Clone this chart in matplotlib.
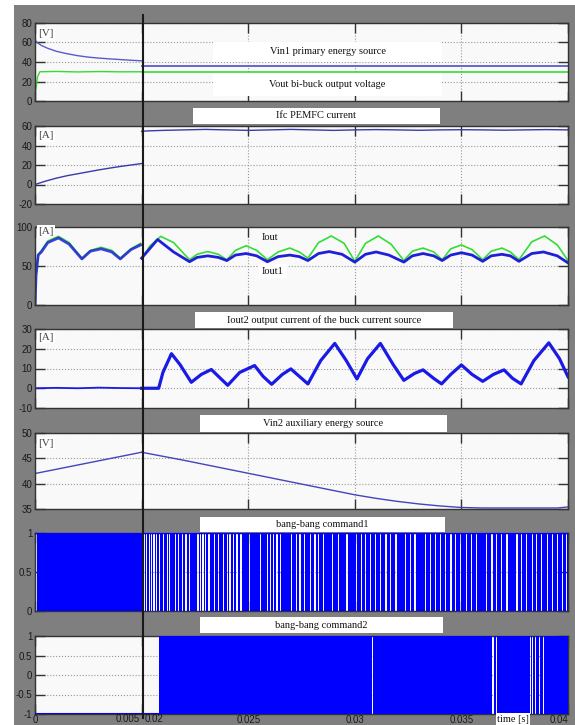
import numpy as np
import matplotlib
matplotlib.use('Agg')
import matplotlib.pyplot as plt
from matplotlib.patches import Rectangle
from matplotlib.lines import Line2D

# ── 1. DATA (time in ms) ──────────────────────────────────────────────────────
# panel 1: Vin1 / Vout
vin1_t_l = [0, 0.02, 0.1, 0.3, 0.6, 1.0, 1.5, 2.0, 2.5, 3.0, 3.5, 4.0, 4.5, 5.0]
vin1_v_l = [72, 62, 60, 57, 54, 51, 48.5, 46.5, 45, 44, 43.2, 42.5, 41.8, 41.2]
vin1_t_r = [20, 40]
vin1_v_r = [36, 36]
vout_t_l = [0, 0.02, 0.06, 0.12, 0.23, 1.0, 2.0, 3.0, 4.0, 5.0]
vout_v_l = [35, 10, 15, 25, 30, 30.3, 29.8, 30.2, 29.9, 30]
vout_t_r = [20, 40]
vout_v_r = [30, 30]

# panel 2: Ifc
ifc_t_l = [0, 0.5, 1, 1.5, 2, 2.5, 3, 3.5, 4, 4.5, 5]
ifc_v_l = [0, 3.5, 6.5, 9, 11, 13, 15, 16.8, 18.5, 20, 21.5]
ifc_t_r = [20, 20.3, 21, 22, 23, 24, 25, 26, 27, 28, 29, 30, 31, 32, 33, 34,
           35, 36, 37, 38, 39, 40]
ifc_v_r = [54.5, 55, 55.5, 56, 56.5, 56, 55.5, 56, 56.5, 56, 55.5, 56, 56.3,
           56, 55.6, 56, 56.2, 56, 55.7, 56, 56.3, 56]

# panel 3: Iout (green) / Iout1 (blue)
iout_t_l = [0, 0.05, 0.15, 0.3, 0.6, 1.1, 1.6, 2.2, 2.6, 3.1, 3.6, 4.0, 4.5, 4.95]
iout_v_l = [0, 40, 65, 70, 82, 88, 80, 60, 70, 74, 70, 60, 72, 79]
iout1_v_l = [0, 38, 64, 68, 80, 86, 78, 59, 69, 72, 68, 59, 71, 77]
iout_t_r = [20.0, 20.4, 20.9, 21.5, 22.25, 22.6, 23.1, 23.6, 24.0, 24.4, 24.9,
            25.4, 25.9, 26.4, 26.95, 27.4, 27.8, 28.3, 28.9, 29.5, 30.0, 30.5,
            31.1, 31.7, 32.3, 32.7, 33.2, 33.7, 34.1, 34.5, 35.0, 35.5, 36.0,
            36.4, 36.9, 37.3, 37.7, 38.3, 38.9, 39.5, 40.0]
iout_v_r = [60, 76, 88, 80, 58, 65, 68.5, 65, 58, 70, 76, 70, 58, 68, 73, 68,
            60, 80, 88.5, 79, 56, 79, 88.5, 78, 57, 69, 73, 68, 58, 72, 77, 71,
            58, 69, 73, 68, 58, 81, 88.5, 77, 57]
iout1_t_r = [20.0, 20.75, 21.5, 22.25, 22.6, 23.1, 23.6, 24.0, 24.4, 24.9, 25.4,
             25.9, 26.4, 26.95, 27.4, 27.8, 28.3, 28.8, 29.4, 30.0, 30.5, 31.0,
             31.6, 32.3, 32.7, 33.2, 33.7, 34.1, 34.5, 35.0, 35.5, 36.0, 36.4,
             36.9, 37.3, 37.7, 38.3, 38.85, 39.5, 40.0]
iout1_v_r = [60, 84, 68, 55.5, 61, 63, 61, 57, 64, 66, 63, 55.5, 62, 64, 62, 57,
             66, 68.5, 65, 55, 65, 68, 64, 55, 63, 66, 63, 57, 64, 67, 64, 56,
             63, 65, 63, 56, 66, 68, 63, 54]

# panel 4: Iout2
iout2_t_l = [0, 1, 2, 3, 4, 5]
iout2_v_l = [0, 0.2, 0, 0.3, 0.1, 0]
iout2_t_r = [20.0, 20.8, 21.0, 21.4, 21.8, 22.33, 22.8, 23.27, 23.7, 24.04, 24.6,
             25.3, 25.7, 26.1, 26.6, 27.0, 27.4, 27.8, 28.4, 29.06, 29.6, 30.1,
             30.6, 31.2, 31.8, 32.3, 32.8, 33.2, 33.7, 34.07, 34.5, 35.0, 35.5,
             36.0, 36.5, 37.0, 37.4, 37.8, 38.4, 39.1, 39.6, 40.0]
iout2_v_r = [0, 0, 8, 17.5, 12, 3, 7, 9.5, 5, 1.5, 8, 11.5, 6, 2, 7, 9.8, 6,
             2.2, 14, 22.7, 14, 4.7, 15, 22.7, 12, 4, 7.5, 9.3, 5, 2.2, 7, 11.8,
             7, 3.5, 7, 9.3, 5, 2.2, 14, 23, 15, 5.8]

# panel 5: Vin2
vin2_t_l = [0, 5]
vin2_v_l = [42, 46.2]
vin2_t_r = [20, 22, 24, 26, 28, 30, 31, 32, 33, 34, 35, 36, 39.5, 40]
vin2_v_r = [46.2, 44.6, 42.9, 41.2, 39.5, 37.8, 37.1, 36.5, 36.0, 35.6, 35.3,
            35.2, 35.2, 35.4]

# panel 6: bang-bang command1 (off intervals: start, length in ms)
cmd1_gap_start = [0.0, 3.98, 4.59,
    20.00, 20.10, 20.22, 20.33, 20.45, 20.55, 20.68, 20.80,
    21.02, 21.18, 21.30, 21.55, 21.70, 21.88, 22.05, 22.22,
    22.60, 22.72, 22.85, 22.98, 23.12, 23.40, 23.58, 23.80,
    24.00, 24.12, 24.30, 24.45, 24.62, 24.78, 25.05, 25.30,
    25.55, 25.88, 26.00, 26.15, 26.30, 26.48, 26.75, 27.00,
    27.25, 27.40, 27.62, 27.90, 28.10, 28.28, 28.50, 28.72,
    28.95, 29.20, 29.38, 29.60, 29.85, 30.05, 30.30, 30.50,
    30.72, 30.95, 31.20, 31.42, 31.65, 31.90, 32.10, 32.35,
    32.58, 32.80, 33.05, 33.30, 33.52, 33.75, 34.00, 34.25,
    34.48, 34.70, 34.95, 35.20, 35.45, 35.68, 35.90, 36.15,
    36.40, 36.62, 36.85, 37.10, 37.35, 37.58, 37.80, 38.05,
    38.30, 38.52, 38.75, 39.00, 39.25, 39.48, 39.70, 39.92]
cmd1_gap_len = [0.08, 0.03, 0.03,
    0.06, 0.07, 0.05, 0.08, 0.04, 0.07, 0.05, 0.06,
    0.04, 0.06, 0.03, 0.05, 0.07, 0.04, 0.06, 0.05,
    0.07, 0.06, 0.08, 0.05, 0.07, 0.04, 0.06, 0.05,
    0.07, 0.08, 0.05, 0.06, 0.07, 0.04, 0.05, 0.03,
    0.06, 0.05, 0.07, 0.06, 0.08, 0.05, 0.04, 0.06,
    0.03, 0.07, 0.04, 0.05, 0.06, 0.03, 0.07, 0.04,
    0.05, 0.06, 0.04, 0.07, 0.03, 0.06, 0.05, 0.04,
    0.06, 0.03, 0.05, 0.07, 0.04, 0.06, 0.03, 0.05,
    0.04, 0.07, 0.03, 0.05, 0.06, 0.04, 0.05, 0.03,
    0.06, 0.04, 0.05, 0.07, 0.03, 0.05, 0.04, 0.06,
    0.07, 0.05, 0.06, 0.08, 0.04, 0.06, 0.05, 0.04,
    0.06, 0.03, 0.05, 0.04, 0.06, 0.03, 0.05, 0.04]

# panel 7: bang-bang command2 (on from 20.8 ms, off intervals)
cmd2_on = 20.8
cmd2_gap_start = [30.82, 36.45, 36.62, 38.2, 38.3, 38.45, 38.62, 38.85]
cmd2_gap_len = [0.03, 0.1, 0.03, 0.05, 0.05, 0.05, 0.08, 0.04]

xtick_labels = ['0', '', '0.025', '0.03', '0.035', '0.04']

# ── 2. HELPERS ─────────────────────────────────────────────────────────────────
W, H = 575, 725
GREY = '#7f7f7f'

def disp(t_ms):
    # broken time axis: 0..5 ms then 20..40 ms shown back to back
    t = np.asarray(t_ms, dtype=float)
    return np.where(t <= 5, t, t - 15) / 1000.0

def fx(x):
    return x / W

def fy(y):
    return 1 - y / H

def pulses(t0, t1, starts, lens, hi, lo):
    xs, vs = [t0], [hi]
    for s, l in zip(starts, lens):
        if t0 <= s < t1:
            xs += [s, s + l]
            vs += [lo, hi]
    xs.append(t1)
    vs.append(hi)
    return np.array(xs), np.array(vs)

serif = ['Liberation Serif', 'DejaVu Serif']
narrow = ['Liberation Sans Narrow', 'Liberation Sans', 'DejaVu Sans']

fig = plt.figure(figsize=(W / 100, H / 100), dpi=100, facecolor='white')
fig.add_artist(Rectangle((fx(14), 0), 1 - fx(14), fy(5), transform=fig.transFigure,
                         facecolor=GREY, edgecolor='none', zorder=-10))

panels = [  # top, bottom (px), ylim, yticks
    (23, 101, (0, 80), [0, 20, 40, 60, 80]),
    (126, 204, (-20, 60), [-20, 0, 20, 40, 60]),
    (227, 305, (0, 100), [0, 50, 100]),
    (329, 408, (-10, 30), [-10, 0, 10, 20, 30]),
    (433, 509, (35, 50), [35, 40, 45, 50]),
    (533, 611, (0, 1), [0, 0.5, 1]),
    (636, 714, (-1, 1), [-1, -0.5, 0, 0.5, 1]),
]

axes = []
for top, bot, ylim, yt in panels:
    ax = fig.add_axes([fx(35), fy(bot), fx(568) - fx(35), (bot - top) / H])
    ax.set_facecolor('#f9f9f9')
    ax.set_xlim(0, 0.025)
    ax.set_ylim(*ylim)
    ax.set_yticks(yt)
    ax.set_yticklabels([f'{v:g}' for v in yt], family=narrow, fontsize=7, color='#1a1a1a')
    ax.set_xticks([0, 0.005, 0.01, 0.015, 0.02, 0.025])
    ax.set_xticklabels([])
    ax.tick_params(direction='in', length=7, width=1, color='#333333',
                   top=True, right=True, pad=2)
    ax.grid(True, linestyle=':', color='#999999', linewidth=0.8)
    for s in ax.spines.values():
        s.set_color('#333333')
        s.set_linewidth(1)
    axes.append(ax)

# ── 3. CURVES ──────────────────────────────────────────────────────────────────
ax1, ax2, ax3, ax4, ax5, ax6, ax7 = axes

ax1.plot(disp(vin1_t_l), vin1_v_l, color='#5a5ad0', lw=1)
ax1.plot(disp(vin1_t_r), vin1_v_r, color='#5a5ad0', lw=1.3)
ax1.plot(disp(vout_t_l), vout_v_l, color='#33dd33', lw=1)
ax1.plot(disp(vout_t_r), vout_v_r, color='#33dd33', lw=1.2)

ax2.plot(disp(ifc_t_l), ifc_v_l, color='#3a3aa8', lw=1)
ax2.plot(disp(ifc_t_r), ifc_v_r, color='#3a3aa8', lw=1)

ax3.plot(disp(iout_t_l), iout_v_l, color='#33dd33', lw=1.2)
ax3.plot(disp(iout_t_l), iout1_v_l, color='#1f1fd8', lw=2, alpha=0.85)
ax3.plot(disp(iout_t_r), iout_v_r, color='#33dd33', lw=1.2)
ax3.plot(disp(iout1_t_r), iout1_v_r, color='#1f1fd8', lw=2)

ax4.plot(disp(iout2_t_l), iout2_v_l, color='#1a1ae6', lw=1.3)
ax4.plot(disp(iout2_t_r), iout2_v_r, color='#1a1ae6', lw=2.3)

ax5.plot(disp(vin2_t_l), vin2_v_l, color='#4444bb', lw=1)
ax5.plot(disp(vin2_t_r), vin2_v_r, color='#4444bb', lw=1)

for t0, t1 in [(0, 5), (20, 40)]:
    xs, vs = pulses(t0, t1, cmd1_gap_start, cmd1_gap_len, 1, 0)
    ax6.fill_between(disp(xs), 0, vs, step='post', color='#0000ff', lw=0, zorder=3)
ax6.plot(disp([0, 5]), [1, 1], color='#0000ff', lw=0.8, zorder=3)
ax6.plot(disp([20, 40]), [1, 1], color='#0000ff', lw=0.8, zorder=3)

xs, vs = pulses(cmd2_on, 40, cmd2_gap_start, cmd2_gap_len, 1, -1)
ax7.fill_between(disp(xs), -1, vs, step='post', color='#0000ff', lw=0, zorder=3)
ax7.plot(disp([0, 5]), [-1, -1], color='#0000ff', lw=1.5, zorder=3)
ax7.plot(disp([20, cmd2_on]), [-1, -1], color='#0000ff', lw=1.5, zorder=3)

ax7.set_xticklabels(xtick_labels, family=narrow, fontsize=7, color='#1a1a1a')
ax7.tick_params(axis='x', pad=1)
ax7.get_xticklabels()[-1].set_horizontalalignment('right')
# split label at the break of the time axis
fig.text(fx(140), fy(719.5), '0.005', ha='right', va='center', family=narrow,
         fontsize=7, color='#1a1a1a')
fig.text(fx(145), fy(719.5), '0.02', ha='left', va='center', family=narrow,
         fontsize=7, color='#1a1a1a')

# ── 4. LABELS ──────────────────────────────────────────────────────────────────
def boxed(x0, x1, y0, y1, text):
    fig.add_artist(Rectangle((fx(x0), fy(y1)), fx(x1) - fx(x0), (y1 - y0) / H,
                             transform=fig.transFigure, facecolor='white',
                             edgecolor='none', zorder=5))
    fig.text(fx((x0 + x1) / 2), fy((y0 + y1) / 2), text, ha='center', va='center',
             family=serif, fontsize=7.5, color='#111111', zorder=6)

boxed(213, 442, 42, 62, 'Vin1 primary energy source')
boxed(213, 442, 73, 96, 'Vout bi-buck output voltage')
boxed(193, 440, 108, 124, 'Ifc PEMFC current')
boxed(195, 453, 312, 328, 'Iout2 output current of the buck current source')
boxed(200, 447, 415, 432, 'Vin2 auxiliary energy source')
boxed(200, 445, 517, 532, 'bang-bang command1')
boxed(200, 443, 617, 633, 'bang-bang command2')

for y, txt in [(34, '[V]'), (136, '[A]'), (231, '[A]'), (337, '[A]'), (443, '[V]')]:
    fig.text(fx(38), fy(y), txt, ha='left', va='center', family=serif, fontsize=8,
             color='#444444', zorder=6,
             bbox=dict(facecolor='white', edgecolor='none', pad=1))

fig.text(fx(262), fy(238), 'Iout', ha='left', va='center', family=serif,
         fontsize=7.5, color='#111111', zorder=6)
fig.text(fx(262), fy(271), 'Iout1', ha='left', va='center', family=serif,
         fontsize=7.5, color='#111111', zorder=6,
         bbox=dict(facecolor='white', edgecolor='none', pad=2))

fig.text(fx(497), fy(719), 'time [s]', ha='left', va='center', family=serif,
         fontsize=7.5, color='#111111', zorder=6,
         bbox=dict(facecolor='white', edgecolor='none', pad=1))

# divider between the two time windows
fig.add_artist(Line2D([fx(142.5), fx(142.5)], [fy(15), fy(718)], color='#1a1a1a',
                      lw=1.5, transform=fig.transFigure, zorder=7))

plt.savefig('out.png', dpi=100, facecolor=fig.get_facecolor())
